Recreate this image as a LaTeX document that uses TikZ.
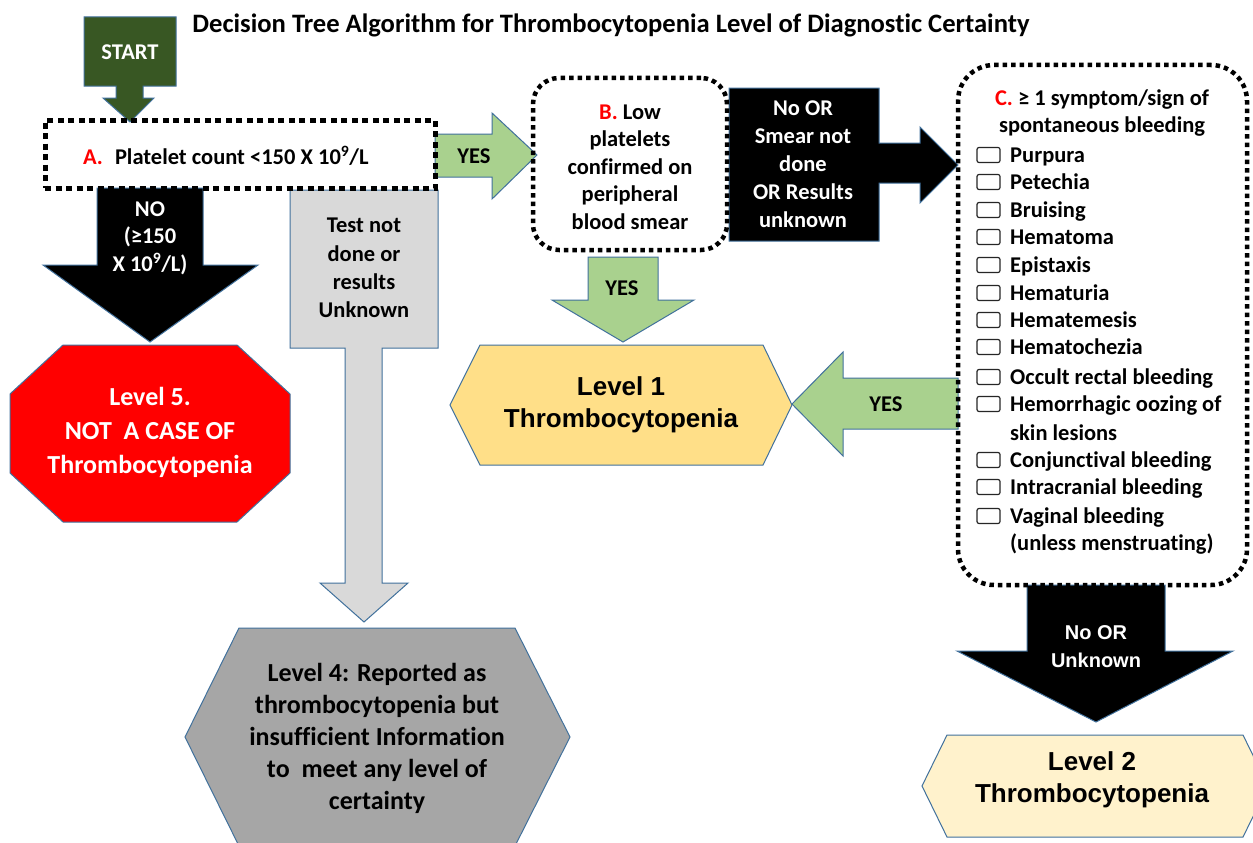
\documentclass[tikz,border=0pt]{standalone}
\usepackage{fontspec}
\setmainfont{Carlito}[RawFeature={-liga}]
\newfontfamily\arialf{Liberation Sans}
\definecolor{bblue}{HTML}{41719C}
\definecolor{startg}{HTML}{385723}
\definecolor{greenA}{HTML}{A9D18E}
\definecolor{grayA}{HTML}{D9D9D9}
\definecolor{grayLf}{HTML}{A6A6A6}
\definecolor{yelLa}{HTML}{FFDF88}
\definecolor{creamLb}{HTML}{FFF2CC}
\definecolor{redL}{HTML}{FF0000}
\tikzset{
  shapeb/.style={draw=bblue, line width=1pt, line join=miter},
  txt/.style={font=\fontsize{22.5}{27.5}\selectfont\bfseries, align=center, inner sep=0pt},
  bigtxt/.style={font=\fontsize{26}{32}\selectfont\bfseries, align=center, inner sep=0pt},
  ariatxt/.style={font=\arialf\fontsize{26}{32}\selectfont\bfseries, align=center, inner sep=0pt},
  dotA/.style={draw=black, line width=5pt, dash pattern=on 6pt off 4.5pt},
  dotB/.style={draw=black, line width=4.5pt, dash pattern=on 4.5pt off 4pt},
  chk/.style={draw=black!85, line width=1.2pt, rounded corners=2pt},
}
\begin{document}
\begin{tikzpicture}[x=1pt,y=-1pt]
\useasboundingbox (0,0) rectangle (1253,843);
\fill[white] (0,0) rectangle (1253,843);

% title
\node[txt, font=\fontsize{26.6}{30}\selectfont\bfseries] (title) at (611,25) {Decision Tree Algorithm for Thrombocytopenia Level of Diagnostic Certainty};

% START arrow
\path[shapeb, fill=startg] (84,17) -- (176,17) -- (176,86) -- (143,86) -- (143,98) -- (154,98) -- (130,122) -- (103,98) -- (116,98) -- (116,86) -- (84,86) -- cycle;
\node[txt, text=white] (start) at (130,52) {START};

% NO arrow (black)
\path[shapeb, fill=black] (97,188) -- (203,188) -- (203,265) -- (258,265) -- (150,342) -- (43,265) -- (97,265) -- cycle;
\node[txt, text=white] (no) at (150,238) {NO\\(≥150\\X 10\textsuperscript{9}/L)};

% Level 5 octagon
\path[shapeb, fill=redL] (63,345) -- (237,345) -- (290,394) -- (290,473) -- (237,522) -- (63,522) -- (10,473) -- (10,394) -- cycle;
\node[bigtxt, font=\fontsize{26}{34}\selectfont\bfseries, text=white] (lv5) at (150,432) {Level 5.\\NOT\ \ A CASE OF\\Thrombocytopenia};

% gray callout arrow
\path[shapeb, fill=grayA] (290,190) -- (438,190) -- (438,348) -- (382,348) -- (382,583) -- (408,583) -- (364,622) -- (320,583) -- (345,583) -- (345,348) -- (290,348) -- cycle;
\node[txt, font=\fontsize{22.5}{28.3}\selectfont\bfseries] (test) at (364,268) {Test not\\done or\\results\\Unknown};

% Level 4 hexagon
\path[shapeb, fill=grayLf] (239,628) -- (515,628) -- (570,737) -- (515,846) -- (239,846) -- (185,737) -- cycle;
\node[bigtxt] (lv4) at (377,738) {Level 4: Reported as\\thrombocytopenia but\\insufficient Information\\to\ \ meet any level of\\certainty};

% green YES right
\path[shapeb, fill=greenA] (435,134) -- (492,134) -- (492,113) -- (537,155) -- (492,199) -- (492,177) -- (435,177) -- cycle;
\node[txt] (yes1) at (474,156) {YES};

% black right callout
\path[shapeb, fill=black] (729,88) -- (879,88) -- (879,143) -- (920,143) -- (920,127) -- (958,165) -- (920,203) -- (920,183) -- (879,183) -- (879,241) -- (729,241) -- cycle;
\node[txt, text=white, font=\fontsize{22.5}{28}\selectfont\bfseries] (smear) at (803,164) {No OR\\Smear not\\done\\OR Results\\unknown};

% green YES down
\path[shapeb, fill=greenA] (588,257) -- (658,257) -- (658,300) -- (694,300) -- (623,342) -- (552,300) -- (588,300) -- cycle;
\node[txt] (yes2) at (622,288) {YES};

% Level 1 hexagon
\path[shapeb, fill=yelLa] (480,345) -- (763,345) -- (792,405) -- (763,465) -- (480,465) -- (450,405) -- cycle;
\node[ariatxt] (lv1) at (621,405) {Level 1\\Thrombocytopenia};

% green YES left
\path[shapeb, fill=greenA] (958,378) -- (843,378) -- (843,352) -- (792,404) -- (843,456) -- (843,429) -- (958,429) -- cycle;
\node[txt] (yes3) at (886,404) {YES};

% black down arrow
\path[shapeb, fill=black] (1027,585) -- (1165,585) -- (1165,651) -- (1233,651) -- (1096,722) -- (957,651) -- (1027,651) -- cycle;
\node[font=\arialf\fontsize{20}{28}\selectfont\bfseries, align=center, inner sep=0pt, text=white] (unk) at (1096,647) {No OR\\Unknown};

% Level 2 hexagon
\path[shapeb, fill=creamLb] (947,735) -- (1243,735) -- (1268,786) -- (1243,837) -- (947,837) -- (922,786) -- cycle;
\node[ariatxt] (lv2) at (1092,780) {Level 2\\Thrombocytopenia};

% dotted boxes
\node[dotA, minimum width=390pt, minimum height=68pt] (A) at (240,154) {};
\node[txt, anchor=west] (Atext) at (83,156) {{\color{redL}A.}\hspace{12pt}Platelet count <150 X 10\textsuperscript{9}/L};

\node[dotB, rounded corners=26pt, minimum width=194pt, minimum height=172pt] (B) at (630,164) {};
\node[txt] (Btext) at (630,167) {{\color{redL}B.} Low\\platelets\\confirmed on\\peripheral\\blood smear};

\node[dotB, rounded corners=36pt, minimum width=289pt, minimum height=520pt] (C) at (1102.5,325) {};
\node[txt] (Chead) at (1102,113) {{\color{redL}C.} ≥ 1 symptom/sign of\\spontaneous bleeding};

\foreach \yy/\lab [count=\i] in {155/Purpura,182/Petechia,210/Bruising,237/Hematoma,265/Epistaxis,293/Hematuria,320/Hematemesis,347/Hematochezia,377/Occult rectal bleeding,404/Hemorrhagic oozing of,460/Conjunctival bleeding,487/Intracranial bleeding,516/Vaginal bleeding}{
  \draw[chk] (977,\yy-7.5) rectangle (1000,\yy+7.5);
  \node[txt, anchor=base west] (item\i) at (1010,\yy+7) {\lab};
}
\node[txt, anchor=base west] (skin) at (1010,440) {skin lesions};
\node[txt, anchor=base west] (mens) at (1010,550) {(unless menstruating)};
\end{tikzpicture}
\end{document}
